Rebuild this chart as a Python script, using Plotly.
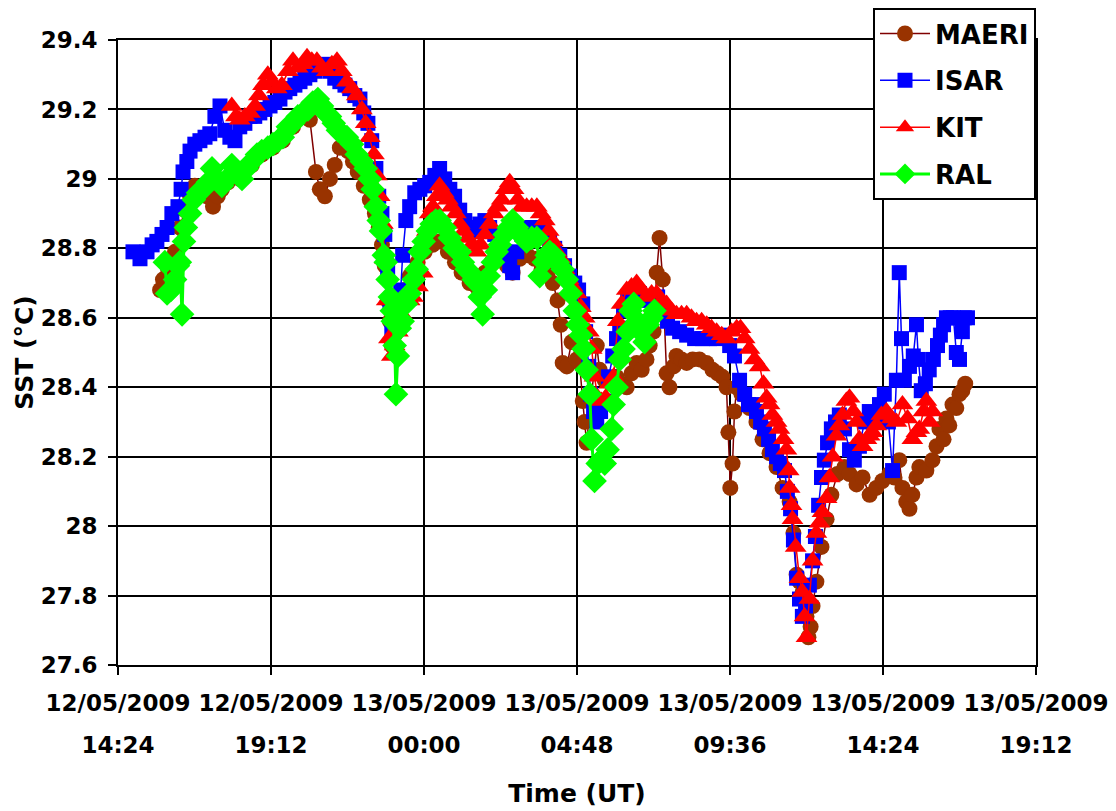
import pandas as pd
import plotly.graph_objects as go

# Time given as hours since 12/05/2009 00:00 UT; SST in deg C
maeri_h = [15.72, 15.81, 15.97, 16.19, 16.34, 16.50, 16.66, 16.81, 16.97, 17.19, 17.38, 17.53, 17.66,
           17.85, 18.22, 18.60, 18.91, 19.26, 19.57, 19.89, 20.20, 20.42,
           20.61, 20.73, 20.89, 21.05, 21.20, 21.36, 21.49, 21.61, 21.77, 21.92, 22.11, 22.30, 22.46, 22.58,
           22.68, 22.77, 22.86, 22.93, 22.99, 23.08, 23.24, 23.40, 23.55, 23.80, 24.02, 24.27, 24.49, 24.75,
           24.97, 25.18, 25.43, 25.65, 25.91, 26.12, 26.37, 26.60, 26.78, 27.00, 27.25, 27.47, 27.69, 27.88,
           28.04, 28.19, 28.29, 28.35, 28.48, 28.63, 28.79, 28.88, 28.98, 29.04, 29.10, 29.26, 29.42, 29.51,
           29.67, 29.89, 30.04, 30.20, 30.36, 30.51, 30.67, 30.83, 30.98, 31.08, 31.20, 31.30, 31.39, 31.49,
           31.61, 31.70, 31.83, 31.92, 32.08, 32.24, 32.43, 32.64, 32.86, 33.05, 33.21, 33.36, 33.49, 33.55,
           33.61, 33.68, 33.74, 33.81, 33.96, 34.21, 34.43, 34.62, 34.84, 35.06, 35.25, 35.47, 35.59, 35.69,
           35.78, 35.88, 36.00, 36.06, 36.13, 36.19, 36.31, 36.47, 36.63, 36.78, 36.97, 37.19, 37.35, 37.57,
           37.76, 37.98, 38.19, 38.38, 38.60, 38.76, 38.91, 39.01, 39.13, 39.23, 39.32, 39.45, 39.54, 39.76,
           39.95, 40.08, 40.17, 40.30, 40.39, 40.48, 40.58, 40.70, 40.80, 40.89, 40.98]
maeri_sst = [28.68, 28.71, 28.74, 28.79, 28.86, 28.91, 28.95, 28.98, 28.97, 28.95, 28.92, 28.95, 28.97,
             28.99, 29.00, 29.04, 29.07, 29.09, 29.11, 29.15, 29.18, 29.17,
             29.02, 28.97, 28.95, 29.00, 29.04, 29.09, 29.11, 29.08, 29.05, 29.02, 28.98, 28.94, 28.90, 28.86,
             28.81, 28.75, 28.65, 28.59, 28.52, 28.55, 28.62, 28.68, 28.72, 28.76, 28.79, 28.81, 28.82, 28.79,
             28.76, 28.73, 28.70, 28.69, 28.73, 28.76, 28.77, 28.75, 28.73, 28.77, 28.78, 28.77, 28.74, 28.73,
             28.70, 28.65, 28.58, 28.47, 28.46, 28.53, 28.48, 28.47, 28.36, 28.30, 28.24, 28.38, 28.52, 28.45,
             28.42, 28.41, 28.43, 28.41, 28.40, 28.44, 28.47, 28.45, 28.48, 28.52, 28.56, 28.73, 28.83, 28.71,
             28.44, 28.40, 28.46, 28.49, 28.48, 28.47, 28.48, 28.48, 28.47, 28.45, 28.44, 28.43, 28.40, 28.27,
             28.11, 28.18, 28.33, 28.40, 28.38, 28.34, 28.30, 28.25, 28.21, 28.17, 28.11, 28.07, 27.98, 27.86,
             27.84, 27.81, 27.74, 27.68, 27.71, 27.77, 27.84, 27.94, 28.02, 28.09, 28.15, 28.17, 28.15, 28.12,
             28.14, 28.09, 28.11, 28.13, 28.15, 28.14, 28.19, 28.11, 28.07, 28.05, 28.09, 28.14, 28.17, 28.16,
             28.19, 28.23, 28.28, 28.25, 28.31, 28.29, 28.35, 28.34, 28.38, 28.39, 28.41]

isar_h = [14.87, 15.09, 15.31, 15.47, 15.62, 15.78, 15.94, 16.09, 16.28, 16.38, 16.44, 16.56, 16.66, 16.81,
          16.97, 17.13, 17.28, 17.44, 17.60, 17.75, 17.91, 18.07, 18.22, 18.38, 18.54, 18.69, 18.85, 19.01,
          19.17, 19.32, 19.48, 19.64, 19.79, 19.95, 20.11, 20.26, 20.42, 20.58, 20.73, 20.89, 21.05, 21.20,
          21.36, 21.52, 21.67, 21.83, 21.99, 22.11, 22.24, 22.36, 22.49, 22.58, 22.68, 22.77, 22.86, 22.93,
          22.99, 23.08, 23.18, 23.27, 23.33, 23.43, 23.55, 23.71, 23.87, 24.02, 24.18, 24.34, 24.49, 24.65,
          24.81, 24.96, 25.12, 25.28, 25.43, 25.59, 25.75, 25.91, 26.06, 26.22, 26.37, 26.53, 26.69, 26.78,
          26.91, 27.07, 27.25, 27.44, 27.63, 27.79, 27.94, 28.10, 28.26, 28.41, 28.57, 28.73, 28.85, 28.98,
          29.07, 29.17, 29.23, 29.32, 29.42, 29.54, 29.67, 29.79, 29.92, 30.04, 30.14, 30.26, 30.39, 30.54,
          30.76, 30.98, 31.17, 31.33, 31.49, 31.64, 31.80, 32.02, 32.24, 32.49, 32.74, 32.96, 33.18, 33.40,
          33.59, 33.74, 33.90, 34.06, 34.18, 34.31, 34.43, 34.56, 34.68, 34.81, 34.93, 35.06, 35.18, 35.31,
          35.40, 35.50, 35.59, 35.69, 35.78, 35.87, 35.97, 36.09, 36.19, 36.28, 36.38, 36.47, 36.56, 36.66,
          36.78, 36.91, 37.03, 37.19, 37.35, 37.50, 37.66, 37.82, 37.97, 38.13, 38.29, 38.44, 38.57, 38.70,
          38.82, 38.91, 38.98, 39.07, 39.23, 39.35, 39.45, 39.51, 39.60, 39.73, 39.85, 39.98, 40.11, 40.20,
          40.30, 40.39, 40.51, 40.61, 40.70, 40.80, 40.89, 40.95, 41.05]
isar_sst = [28.79, 28.77, 28.79, 28.81, 28.82, 28.84, 28.86, 28.90, 28.92, 28.97, 29.02, 29.05, 29.08, 29.10,
            29.11, 29.12, 29.13, 29.18, 29.21, 29.14, 29.12, 29.11, 29.15, 29.16, 29.18, 29.18, 29.19, 29.20,
            29.21, 29.22, 29.23, 29.25, 29.26, 29.27, 29.28, 29.29, 29.30, 29.31, 29.32, 29.33, 29.31, 29.29,
            29.28, 29.27, 29.26, 29.24, 29.23, 29.19, 29.16, 29.11, 29.03, 28.95, 28.90, 28.84, 28.74, 28.65,
            28.56, 28.59, 28.62, 28.68, 28.78, 28.88, 28.92, 28.96, 28.97, 28.98, 28.99, 29.01, 29.03, 29.00,
            28.97, 28.95, 28.91, 28.88, 28.85, 28.86, 28.87, 28.88, 28.86, 28.84, 28.82, 28.79, 28.75, 28.73,
            28.79, 28.84, 28.86, 28.86, 28.86, 28.84, 28.82, 28.80, 28.78, 28.75, 28.72, 28.70, 28.68, 28.64,
            28.56, 28.46, 28.38, 28.33, 28.30, 28.33, 28.36, 28.43, 28.49, 28.54, 28.57, 28.62, 28.66, 28.67,
            28.67, 28.65, 28.66, 28.66, 28.62, 28.59, 28.57, 28.56, 28.55, 28.54, 28.54, 28.54, 28.54, 28.55,
            28.52, 28.49, 28.42, 28.38, 28.35, 28.35, 28.33, 28.30, 28.28, 28.25, 28.22, 28.20, 28.18, 28.16,
            28.10, 28.05, 27.96, 27.85, 27.79, 27.74, 27.77, 27.83, 27.90, 27.97, 28.06, 28.14, 28.19, 28.24,
            28.28, 28.30, 28.32, 28.28, 28.22, 28.19, 28.23, 28.30, 28.33, 28.30, 28.35, 28.38, 28.30, 28.16,
            28.42, 28.73, 28.54, 28.42, 28.46, 28.49, 28.58, 28.48, 28.39, 28.41, 28.45, 28.48, 28.52, 28.55,
            28.58, 28.60, 28.60, 28.60, 28.50, 28.48, 28.56, 28.60, 28.60]

kit_h = [17.97, 18.10, 18.22, 18.38, 18.54, 18.70, 18.82, 18.95, 19.10, 19.23, 19.38, 19.54, 19.73, 19.89,
         20.04, 20.20, 20.33, 20.48, 20.64, 20.80, 20.95, 21.11, 21.27, 21.42, 21.58, 21.74, 21.89, 22.05,
         22.17, 22.30, 22.43, 22.52, 22.61, 22.71, 22.77, 22.83, 22.90, 22.99, 23.08, 23.18, 23.30, 23.43,
         23.55, 23.65, 23.81, 23.96, 24.09, 24.18, 24.28, 24.40, 24.49, 24.62, 24.75, 24.87, 25.00, 25.12,
         25.25, 25.37, 25.50, 25.65, 25.78, 25.91, 26.06, 26.19, 26.31, 26.44, 26.56, 26.69, 26.81, 26.94,
         27.07, 27.22, 27.38, 27.54, 27.66, 27.79, 27.91, 28.04, 28.16, 28.29, 28.41, 28.54, 28.66, 28.79,
         28.92, 29.04, 29.17, 29.26, 29.35, 29.45, 29.57, 29.70, 29.82, 29.95, 30.08, 30.20, 30.36, 30.51,
         30.67, 30.83, 30.98, 31.14, 31.30, 31.45, 31.61, 31.77, 31.92, 32.08, 32.24, 32.39, 32.55, 32.71,
         32.87, 33.02, 33.18, 33.34, 33.49, 33.65, 33.81, 33.93, 34.06, 34.21, 34.37, 34.53, 34.65, 34.75,
         34.84, 34.93, 35.06, 35.15, 35.28, 35.37, 35.44, 35.47, 35.53, 35.56, 35.66, 35.78, 35.87, 35.94,
         36.00, 36.09, 36.19, 36.31, 36.41, 36.50, 36.63, 36.72, 36.82, 36.94, 37.03, 37.13, 37.25, 37.35,
         37.47, 37.57, 37.66, 37.76, 37.88, 37.98, 38.07, 38.19, 38.35, 38.51, 38.67, 38.82, 39.01, 39.17,
         39.32, 39.45, 39.54, 39.67, 39.76, 39.86, 39.95]
kit_sst = [29.21, 29.18, 29.17, 29.18, 29.19, 29.21, 29.24, 29.27, 29.30, 29.28, 29.26, 29.27, 29.31, 29.34,
           29.32, 29.33, 29.35, 29.34, 29.34, 29.32, 29.31, 29.33, 29.34, 29.31, 29.28, 29.26, 29.24, 29.20,
           29.16, 29.12, 29.07, 29.01, 28.95, 28.87, 28.77, 28.65, 28.54, 28.49, 28.52, 28.56, 28.61, 28.65,
           28.65, 28.66, 28.69, 28.73, 28.85, 28.90, 28.92, 28.95, 28.98, 28.96, 28.94, 28.92, 28.90, 28.87,
           28.85, 28.83, 28.81, 28.79, 28.81, 28.84, 28.87, 28.90, 28.92, 28.94, 28.97, 28.99, 28.97, 28.94,
           28.92, 28.92, 28.92, 28.92, 28.90, 28.88, 28.85, 28.82, 28.79, 28.77, 28.74, 28.71, 28.69, 28.67,
           28.63, 28.60, 28.56, 28.51, 28.43, 28.37, 28.36, 28.37, 28.41, 28.43, 28.59, 28.64, 28.68, 28.69,
           28.70, 28.68, 28.66, 28.67, 28.67, 28.65, 28.64, 28.62, 28.61, 28.61, 28.61, 28.60, 28.59, 28.59,
           28.58, 28.57, 28.56, 28.55, 28.54, 28.56, 28.57, 28.57, 28.54, 28.51, 28.48, 28.46, 28.41, 28.37,
           28.35, 28.32, 28.30, 28.28, 28.25, 28.22, 28.16, 28.11, 28.06, 28.02, 27.94, 27.85, 27.81, 27.74,
           27.68, 27.79, 27.90, 27.98, 28.01, 28.04, 28.08, 28.14, 28.20, 28.26, 28.29, 28.32, 28.36, 28.37,
           28.33, 28.30, 28.25, 28.23, 28.25, 28.26, 28.27, 28.29, 28.32, 28.33, 28.31, 28.30, 28.35, 28.31,
           28.25, 28.27, 28.28, 28.33, 28.36, 28.30, 28.33]

ral_h = [15.87, 15.94, 16.06, 16.19, 16.28, 16.34, 16.41, 16.47, 16.53, 16.66, 16.78, 16.91, 17.06, 17.22,
         17.35, 17.50, 17.66, 17.82, 17.97, 18.13, 18.29, 18.44, 18.60, 18.76, 18.91, 19.10, 19.26, 19.42,
         19.57, 19.73, 19.89, 20.04, 20.20, 20.36, 20.51, 20.67, 20.80, 20.92, 21.05, 21.17, 21.30, 21.42,
         21.58, 21.74, 21.89, 22.05, 22.17, 22.30, 22.39, 22.49, 22.58, 22.65, 22.74, 22.80, 22.86, 22.93,
         22.99, 23.02, 23.08, 23.12, 23.18, 23.24, 23.33, 23.43, 23.55, 23.68, 23.77, 23.87, 23.99, 24.12,
         24.24, 24.37, 24.49, 24.65, 24.81, 24.96, 25.12, 25.22, 25.34, 25.44, 25.56, 25.65, 25.75, 25.84,
         25.94, 26.03, 26.16, 26.28, 26.38, 26.53, 26.66, 26.78, 26.91, 27.03, 27.22, 27.38, 27.54, 27.63,
         27.76, 27.85, 27.94, 28.07, 28.19, 28.35, 28.48, 28.60, 28.73, 28.82, 28.92, 29.01, 29.10, 29.20,
         29.26, 29.35, 29.45, 29.54, 29.67, 29.76, 29.89, 29.95, 30.04, 30.14, 30.26, 30.39, 30.48, 30.58,
         30.70, 30.80, 30.92, 31.02, 31.14, 31.23]
ral_sst = [28.76, 28.67, 28.68, 28.71, 28.75, 28.76, 28.61, 28.82, 28.86, 28.90, 28.94, 28.96, 28.97, 28.99,
           29.03, 29.00, 28.98, 29.00, 29.04, 29.02, 29.00, 29.03, 29.05, 29.07, 29.08, 29.09, 29.10, 29.11,
           29.12, 29.15, 29.16, 29.18, 29.19, 29.20, 29.22, 29.23, 29.21, 29.19, 29.18, 29.16, 29.14, 29.13,
           29.12, 29.10, 29.07, 29.05, 29.03, 29.00, 28.97, 28.92, 28.88, 28.85, 28.78, 28.76, 28.71, 28.66,
           28.62, 28.59, 28.52, 28.38, 28.49, 28.57, 28.59, 28.64, 28.67, 28.71, 28.74, 28.79, 28.82, 28.85,
           28.87, 28.88, 28.88, 28.86, 28.83, 28.80, 28.79, 28.76, 28.74, 28.73, 28.71, 28.70, 28.66, 28.61,
           28.68, 28.72, 28.76, 28.79, 28.81, 28.84, 28.86, 28.88, 28.86, 28.84, 28.82, 28.83, 28.83, 28.72,
           28.76, 28.78, 28.79, 28.78, 28.76, 28.74, 28.71, 28.67, 28.62, 28.58, 28.55, 28.51, 28.45, 28.38,
           28.25, 28.13, 28.18, 28.19, 28.18, 28.22, 28.28, 28.35, 28.40, 28.48, 28.51, 28.56, 28.62, 28.64,
           28.59, 28.56, 28.53, 28.58, 28.60, 28.62]

tick_hours = [14.4, 19.2, 24.0, 28.8, 33.6, 38.4, 43.2]
tick_dates = ["12/05/2009", "12/05/2009", "13/05/2009", "13/05/2009", "13/05/2009", "13/05/2009", "13/05/2009"]
tick_clock = ["14:24", "19:12", "00:00", "04:48", "09:36", "14:24", "19:12"]
y_ticks = [27.6, 27.8, 28.0, 28.2, 28.4, 28.6, 28.8, 29.0, 29.2, 29.4]
y_text = ["27.6", "27.8", "28", "28.2", "28.4", "28.6", "28.8", "29", "29.2", "29.4"]

base = pd.Timestamp("2009-05-12 00:00")


def to_time(hours):
    return [base + pd.Timedelta(hours=h) for h in hours]


FONT = "DejaVu Sans, Arial, sans-serif"
x_range = [base + pd.Timedelta(hours=tick_hours[0]), base + pd.Timedelta(hours=tick_hours[-1])]

fig = go.Figure()
series = [
    ("MAERI", maeri_h, maeri_sst, "#800000", 1.5, "circle", 16, "#993300"),
    ("ISAR", isar_h, isar_sst, "#0000FF", 1.5, "square", 15, "#0000FF"),
    ("KIT", kit_h, kit_sst, "#FF0000", 1.5, "triangle-up", 19, "#FF0000"),
    ("RAL", ral_h, ral_sst, "#00FF00", 3, "diamond", 19, "#00FF00"),
]
for name, hh, vv, lc, lw, sym, ms, mc in series:
    fig.add_trace(go.Scatter(x=to_time(hh), y=vv, name=name, legendgroup=name, mode="lines+markers",
                             line=dict(color=lc, width=lw),
                             marker=dict(symbol=sym, size=ms, color=mc)))

# helper trace so that the second (clock-time) x axis is drawn
fig.add_trace(go.Scatter(x=x_range, y=[None, None], xaxis="x2", mode="lines",
                         showlegend=False, hoverinfo="skip"))

fig.update_layout(
    width=1116, height=811,
    paper_bgcolor="white", plot_bgcolor="white",
    margin=dict(l=110, r=88, t=32, b=154, autoexpand=False),
    font=dict(family=FONT, size=24, color="black", weight="bold"),
    showlegend=True,
    legend=dict(x=1.0, xanchor="right", y=1.051, yanchor="top",
                bgcolor="white", bordercolor="black", borderwidth=2,
                font=dict(family=FONT, size=26, color="black", weight="bold"),
                itemwidth=50, traceorder="grouped", tracegroupgap=10),
    xaxis=dict(
        range=x_range,
        tickvals=to_time(tick_hours), ticktext=tick_dates,
        tickfont=dict(family=FONT, size=23, color="black", weight="bold"),
        showgrid=True, gridcolor="black", gridwidth=2,
        showline=True, linecolor="black", linewidth=2, mirror=True,
        ticks="outside", ticklen=8, tickcolor="black", tickwidth=1.5,
        ticklabelstandoff=8,
        title=dict(text="Time (UT)", font=dict(family=FONT, size=25, color="black", weight="bold"),
                   standoff=70),
        zeroline=False, automargin=False,
    ),
    xaxis2=dict(
        range=x_range, overlaying="x", side="bottom", anchor="y",
        tickvals=to_time(tick_hours), ticktext=tick_clock,
        tickfont=dict(family=FONT, size=23, color="black", weight="bold"),
        showgrid=False, showline=False, zeroline=False, ticks="", ticklabelstandoff=64,
        automargin=False,
    ),
    yaxis=dict(
        range=[27.6, 29.4],
        tickvals=y_ticks, ticktext=y_text,
        tickfont=dict(family=FONT, size=23, color="black", weight="bold"),
        showgrid=True, gridcolor="black", gridwidth=2,
        showline=True, linecolor="black", linewidth=2, mirror=True,
        ticks="outside", ticklen=8, tickcolor="black", tickwidth=1.5,
        ticklabelstandoff=6,
        title=dict(text="SST (°C)", font=dict(family=FONT, size=25, color="black", weight="bold"),
                   standoff=0),
        zeroline=False, automargin=False,
    ),
)

fig.write_html("out.html")
